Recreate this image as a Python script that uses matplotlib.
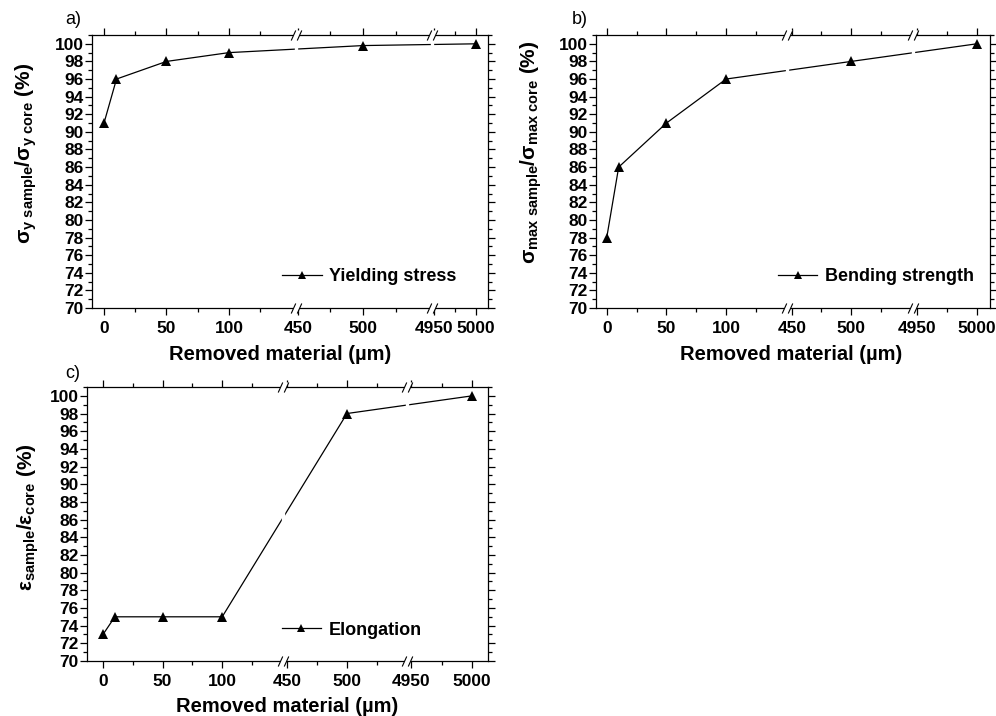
import numpy as np
import matplotlib
matplotlib.use('Agg')
import matplotlib.pyplot as plt
from matplotlib.path import Path
import matplotlib.transforms as mtransforms

plt.rcParams['font.family'] = ['Liberation Sans', 'DejaVu Sans']
plt.rcParams['font.weight'] = 'bold'
plt.rcParams['mathtext.fontset'] = 'custom'
plt.rcParams['mathtext.rm'] = 'Liberation Sans:bold'
plt.rcParams['mathtext.it'] = 'Liberation Sans:italic:bold'
plt.rcParams['mathtext.bf'] = 'Liberation Sans:bold'

# ---------------- data ----------------
removed = [0, 10, 50, 100, 500, 5000]
yield_stress = [91, 96, 98, 99, 99.8, 100]
bending = [78, 86, 91, 96, 98, 100]
elongation = [73, 75, 75, 75, 98, 100]

xticks_major = [0, 50, 100, 450, 500, 4950, 5000]
xticks_minor = [25, 75, 125, 475, 525, 4975]
yticks_major = list(range(70, 101, 2))
yticks_minor = list(range(70, 102, 1))

W, H = 996, 716
fig = plt.figure(figsize=(W / 100, H / 100), dpi=100)

# panel layout: (rect px: left, top, right, bottom), broken-axis knots (data, px)
panels = [
    dict(rect=(92, 35, 488, 308), dk=[-9.6, 153.6, 448.5, 553, 4947.6, 5014],
         pk=[0, 204, 204, 340, 340, 396], y=yield_stress,
         ylabel='σ$_\\mathrm{y\\ sample}$/σ$_\\mathrm{y\\ core}$ (%)', leg='Yielding stress',
         legpos=(0.70, 0.114), letter='a)', letpos=(65, 20), ylc=(-0.135, 0.568),
         xlc=(0.475, -0.135)),
    dict(rect=(596, 35, 990, 308), dk=[-9, 151, 446, 552, 4947, 5011],
         pk=[0, 191, 191, 317, 317, 394], y=bending,
         ylabel='σ$_\\mathrm{max\\ sample}$/σ$_\\mathrm{max\\ core}$ (%)', leg='Bending strength',
         legpos=(0.71, 0.114), letter='b)', letpos=(572, 20), ylc=(-0.133, 0.571),
         xlc=(0.495, -0.135)),
    dict(rect=(87, 387, 488, 661), dk=[-13.4, 151, 446.7, 550, 4946.7, 5013],
         pk=[0, 196, 196, 320, 320, 401], y=elongation,
         ylabel='ε$_\\mathrm{sample}$/ε$_\\mathrm{core}$ (%)', leg='Elongation',
         legpos=(0.66, 0.113), letter='c)', letpos=(65, 373), ylc=(-0.115, 0.526),
         xlc=(0.5, -0.13)),
]

# break-mark marker shapes
s1 = [(-1.05, -1), (-0.15, 1)]
s2 = [(0.15, -1), (1.05, 1)]
slash_path = Path(s1 + s2, [Path.MOVETO, Path.LINETO, Path.MOVETO, Path.LINETO])
fill_path = Path([(-1.05, -1), (0.15, -1), (1.05, 1), (-0.15, 1), (-1.05, -1)],
                 [Path.MOVETO, Path.LINETO, Path.LINETO, Path.LINETO, Path.CLOSEPOLY])


def make_funcs(dk, pk):
    dk = np.asarray(dk, float)
    pk = np.asarray(pk, float) + np.arange(len(pk)) * 1e-3

    def fwd(x):
        return np.interp(x, dk, pk)

    def inv(p):
        return np.interp(p, pk, dk)
    return fwd, inv


for p in panels:
    l, t, r, b = p['rect']
    ax = fig.add_axes([l / W, 1 - b / H, (r - l) / W, (b - t) / H])
    fwd, inv = make_funcs(p['dk'], p['pk'])
    ax.set_xscale('function', functions=(fwd, inv))
    ax.set_xlim(p['dk'][0], p['dk'][-1])
    ax.set_ylim(70, 101)

    ax.plot(removed, p['y'], color='black', lw=0.9, marker='^', ms=6.5,
            markeredgewidth=0, label=p['leg'], zorder=2)

    ax.set_xticks(xticks_major)
    ax.set_xticklabels([str(v) for v in xticks_major])
    ax.set_xticks(xticks_minor, minor=True)
    ax.set_yticks(yticks_major)
    ax.set_yticks(yticks_minor, minor=True)
    ax.tick_params(which='both', direction='out', top=True, right=True,
                   labeltop=False, labelright=False, width=0.9, colors='black')
    ax.tick_params(which='major', length=5)
    ax.tick_params(which='minor', length=3)
    ax.tick_params(axis='x', which='major', labelsize=12.5, pad=4)
    ax.tick_params(axis='y', which='major', labelsize=12.5, pad=1)
    for sp in ax.spines.values():
        sp.set_linewidth(0.9)

    # break marks
    bt = mtransforms.blended_transform_factory(ax.transData, ax.transAxes)
    for xb in (p['dk'][1], p['dk'][3]):
        ax.plot([xb, xb], [0, 1], transform=bt, color='white', lw=2.4,
                zorder=2.3, solid_capstyle='butt')
        ax.plot([xb, xb], [0, 1], transform=bt, linestyle='none', marker=fill_path,
                ms=7.6, markerfacecolor='white', markeredgewidth=0, clip_on=False, zorder=3)
        ax.plot([xb, xb], [0, 1], transform=bt, linestyle='none', marker=slash_path,
                ms=7.6, markeredgecolor='black', markeredgewidth=0.8, clip_on=False, zorder=3.1)

    ax.set_ylabel(p['ylabel'], fontsize=15, fontweight='bold')
    ax.yaxis.set_label_coords(*p['ylc'])
    ax.set_xlabel('Removed material (µm)', fontsize=14.5, fontweight='bold')
    ax.xaxis.set_label_coords(*p['xlc'])

    ax.legend(loc='center', bbox_to_anchor=p['legpos'], frameon=False,
              prop={'size': 13, 'weight': 'bold'}, handlelength=2.2,
              handletextpad=0.4, borderpad=0, borderaxespad=0, markerscale=0.8)

    fig.text(p['letpos'][0] / W, 1 - p['letpos'][1] / H, p['letter'], fontsize=13,
             fontweight='normal', ha='left', va='center')

fig.savefig('out.png', dpi=100)
